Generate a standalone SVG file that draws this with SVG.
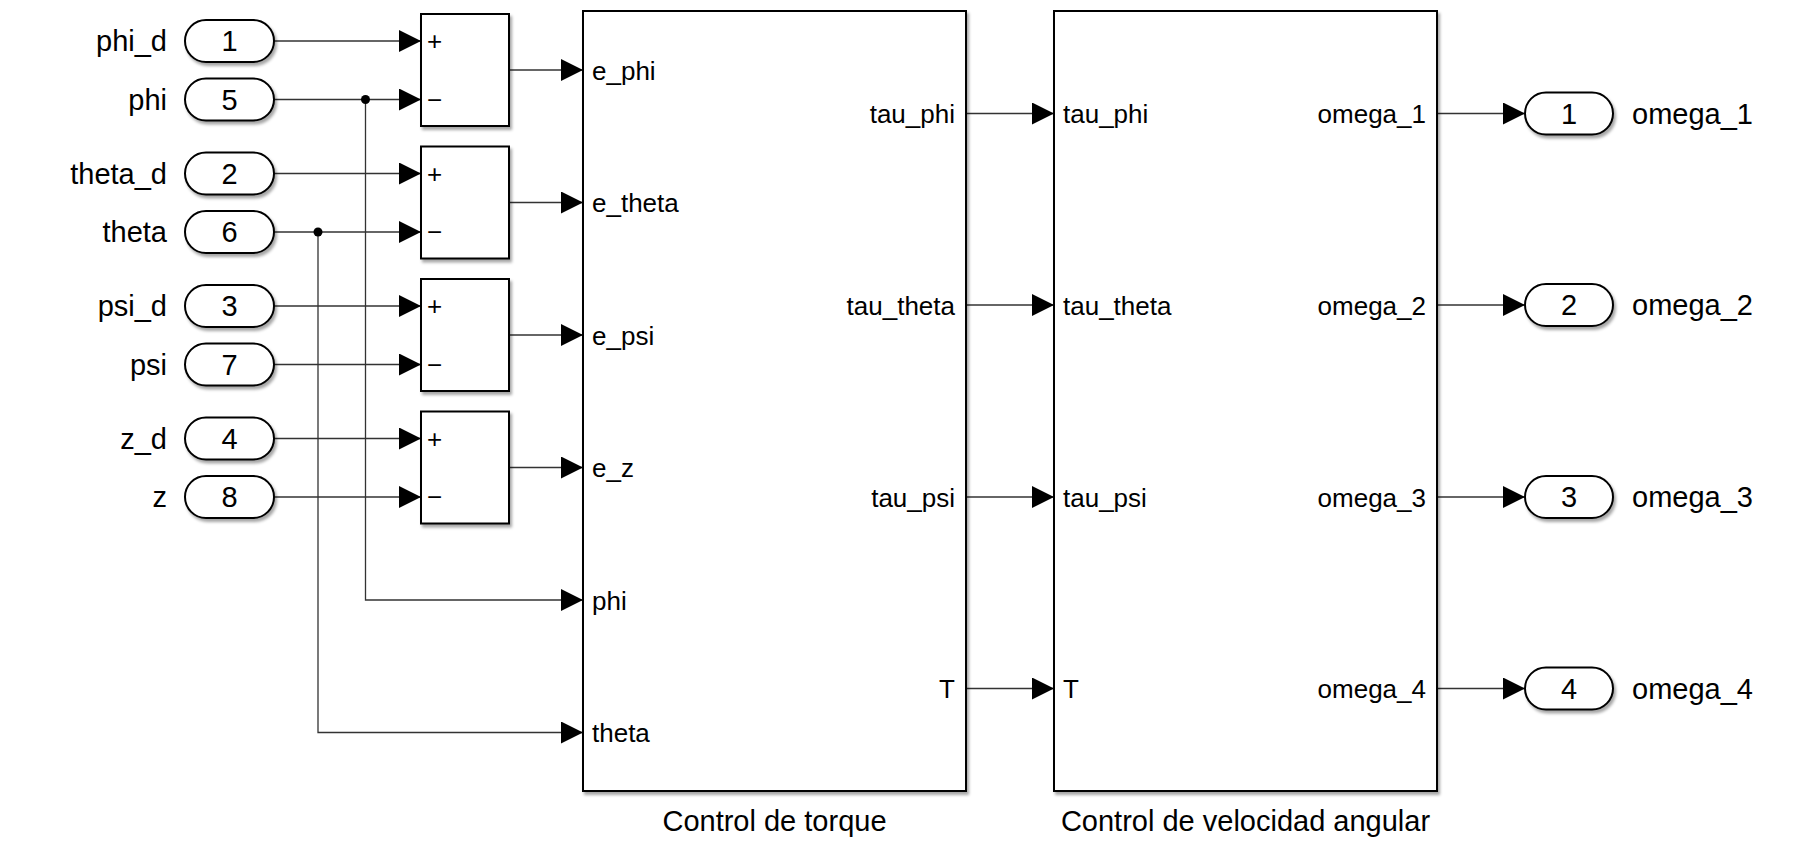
<svg xmlns="http://www.w3.org/2000/svg" width="1820" height="848" viewBox="0 0 1820 848">
<style>
text{font-family:"Liberation Sans",Arial,Helvetica,sans-serif;font-size:29px;fill:#000}
.p{font-size:26px}
.r{text-anchor:end}
.m{text-anchor:middle}
.blk{fill:#fff;stroke:#000;stroke-width:2;filter:url(#sh)}
.pill{fill:#fff;stroke:#000;stroke-width:2;filter:url(#sh)}
.w{fill:none;stroke:#333;stroke-width:1.3;marker-end:url(#ah)}
</style>
<defs>
<filter id="sh" x="-10%" y="-10%" width="130%" height="130%">
<feDropShadow dx="2" dy="3" stdDeviation="1.5" flood-color="#000" flood-opacity="0.35"/>
</filter>
<marker id="ah" markerUnits="userSpaceOnUse" markerWidth="22" markerHeight="22" refX="22" refY="11" orient="auto">
<path d="M0,0 L22,11 L0,22 Z" fill="#000"/>
</marker>
</defs>
<rect width="1820" height="848" fill="#fff"/>

<g id="connectors">
<path class="w" d="M274,41 H421"/>
<path class="w" d="M274,99.5 H421"/>
<path class="w" d="M274,173.5 H421"/>
<path class="w" d="M274,232 H421"/>
<path class="w" d="M274,306 H421"/>
<path class="w" d="M274,364.5 H421"/>
<path class="w" d="M274,438.5 H421"/>
<path class="w" d="M274,497 H421"/>
<path class="w" d="M365.5,99.5 V600 H583"/>
<path class="w" d="M318,232 V732.5 H583"/>
<circle cx="365.5" cy="99.5" r="4.5" fill="#000"/>
<circle cx="318" cy="232" r="4.5" fill="#000"/>
<path class="w" d="M509,70 H583"/>
<path class="w" d="M509,202.5 H583"/>
<path class="w" d="M509,335 H583"/>
<path class="w" d="M509,467.5 H583"/>
<path class="w" d="M966,113.5 H1054"/>
<path class="w" d="M966,305 H1054"/>
<path class="w" d="M966,497 H1054"/>
<path class="w" d="M966,688.5 H1054"/>
<path class="w" d="M1437,113.5 H1525"/>
<path class="w" d="M1437,305 H1525"/>
<path class="w" d="M1437,497 H1525"/>
<path class="w" d="M1437,688.5 H1525"/>
</g>

<g id="in1"><rect class="pill" x="185" y="20" width="89" height="42" rx="21"/><text class="m" x="229.5" y="51">1</text><text class="r" x="167" y="51">phi_d</text></g>
<g id="in5"><rect class="pill" x="185" y="78.5" width="89" height="42" rx="21"/><text class="m" x="229.5" y="109.5">5</text><text class="r" x="167" y="109.5">phi</text></g>
<g id="in2"><rect class="pill" x="185" y="152.5" width="89" height="42" rx="21"/><text class="m" x="229.5" y="183.5">2</text><text class="r" x="167" y="183.5">theta_d</text></g>
<g id="in6"><rect class="pill" x="185" y="211" width="89" height="42" rx="21"/><text class="m" x="229.5" y="242">6</text><text class="r" x="167" y="242">theta</text></g>
<g id="in3"><rect class="pill" x="185" y="285" width="89" height="42" rx="21"/><text class="m" x="229.5" y="316">3</text><text class="r" x="167" y="316">psi_d</text></g>
<g id="in7"><rect class="pill" x="185" y="343.5" width="89" height="42" rx="21"/><text class="m" x="229.5" y="374.5">7</text><text class="r" x="167" y="374.5">psi</text></g>
<g id="in4"><rect class="pill" x="185" y="417.5" width="89" height="42" rx="21"/><text class="m" x="229.5" y="448.5">4</text><text class="r" x="167" y="448.5">z_d</text></g>
<g id="in8"><rect class="pill" x="185" y="476" width="89" height="42" rx="21"/><text class="m" x="229.5" y="507">8</text><text class="r" x="167" y="507">z</text></g>

<g id="sum1"><rect class="blk" x="421" y="14" width="88" height="112"/><text class="p" x="427" y="50">+</text><text class="p" x="427" y="108.5">−</text></g>
<g id="sum2"><rect class="blk" x="421" y="146.5" width="88" height="112"/><text class="p" x="427" y="182.5">+</text><text class="p" x="427" y="241">−</text></g>
<g id="sum3"><rect class="blk" x="421" y="279" width="88" height="112"/><text class="p" x="427" y="315">+</text><text class="p" x="427" y="373.5">−</text></g>
<g id="sum4"><rect class="blk" x="421" y="411.5" width="88" height="112"/><text class="p" x="427" y="447.5">+</text><text class="p" x="427" y="506">−</text></g>

<g id="torque">
<rect class="blk" x="583" y="11" width="383" height="780"/>
<text class="p" x="592" y="79.5">e_phi</text>
<text class="p" x="592" y="212">e_theta</text>
<text class="p" x="592" y="344.5">e_psi</text>
<text class="p" x="592" y="477">e_z</text>
<text class="p" x="592" y="609.5">phi</text>
<text class="p" x="592" y="742">theta</text>
<text class="p r" x="955" y="123">tau_phi</text>
<text class="p r" x="955" y="314.5">tau_theta</text>
<text class="p r" x="955" y="506.5">tau_psi</text>
<text class="p r" x="955" y="698">T</text>
<text class="m" x="774.5" y="831">Control de torque</text>
</g>

<g id="velocidad">
<rect class="blk" x="1054" y="11" width="383" height="780"/>
<text class="p" x="1063" y="123">tau_phi</text>
<text class="p" x="1063" y="314.5">tau_theta</text>
<text class="p" x="1063" y="506.5">tau_psi</text>
<text class="p" x="1063" y="698">T</text>
<text class="p r" x="1426" y="123">omega_1</text>
<text class="p r" x="1426" y="314.5">omega_2</text>
<text class="p r" x="1426" y="506.5">omega_3</text>
<text class="p r" x="1426" y="698">omega_4</text>
<text class="m" x="1245.5" y="831">Control de velocidad angular</text>
</g>

<g id="out1"><rect class="pill" x="1525" y="92.5" width="88" height="42" rx="21"/><text class="m" x="1569" y="123.5">1</text><text x="1632" y="123.5">omega_1</text></g>
<g id="out2"><rect class="pill" x="1525" y="284" width="88" height="42" rx="21"/><text class="m" x="1569" y="315">2</text><text x="1632" y="315">omega_2</text></g>
<g id="out3"><rect class="pill" x="1525" y="476" width="88" height="42" rx="21"/><text class="m" x="1569" y="507">3</text><text x="1632" y="507">omega_3</text></g>
<g id="out4"><rect class="pill" x="1525" y="667.5" width="88" height="42" rx="21"/><text class="m" x="1569" y="698.5">4</text><text x="1632" y="698.5">omega_4</text></g>
</svg>
